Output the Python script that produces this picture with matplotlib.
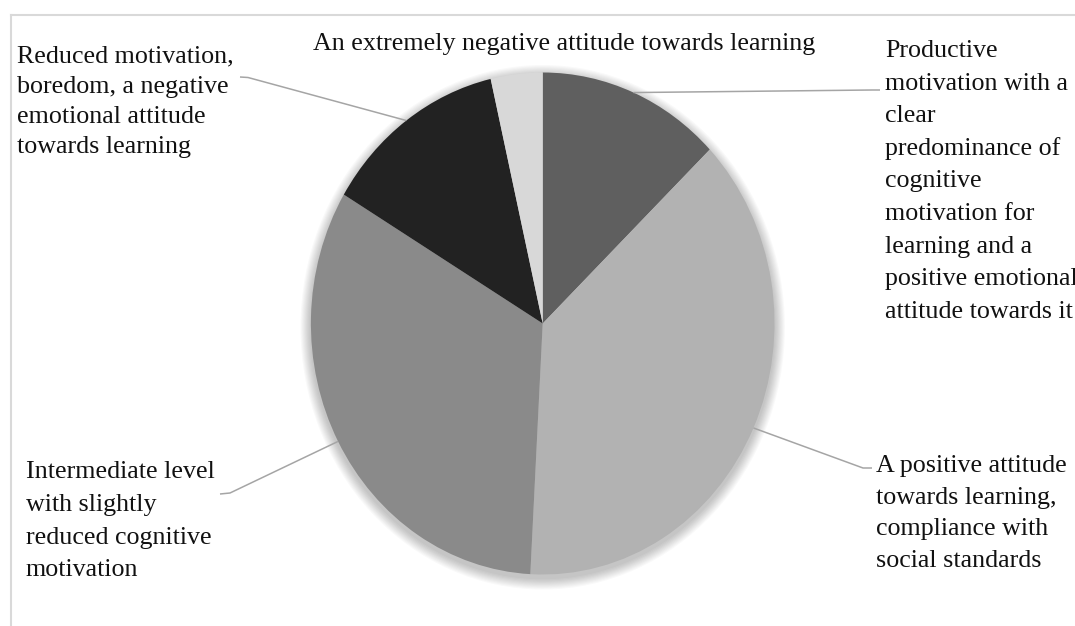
import matplotlib
matplotlib.use('Agg')
import matplotlib.pyplot as plt
import numpy as np
from matplotlib.patches import Ellipse
from matplotlib.lines import Line2D

# ---------------- data ----------------
categories = [
    "Productive motivation with a clear predominance of cognitive motivation for learning and a positive emotional attitude towards it",
    "A positive attitude towards learning, compliance with social standards",
    "Intermediate level with slightly reduced cognitive motivation",
    "Reduced motivation, boredom, a negative emotional attitude towards learning",
    "An extremely negative attitude towards learning",
]
values = [12.8, 38.0, 32.7, 12.8, 3.6]
colors = ['#5f5f5f', '#b2b2b2', '#8a8a8a', '#222222', '#d8d8d8']

label_lines = [
    ["Productive", "motivation with a", "clear", "predominance of", "cognitive",
     "motivation for", "learning and a", "positive emotional", "attitude towards it"],
    ["A positive attitude", "towards learning,", "compliance with", "social standards"],
    ["Intermediate level", "with slightly", "reduced cognitive", "motivation"],
    ["Reduced motivation,", "boredom, a negative", "emotional attitude", "towards learning"],
    ["An extremely negative attitude towards learning"],
]

# ---------------- layout (pixels, from top-left) ----------------
W, H = 1075, 626
cx, cy, rx, ry = 542.7, 323.5, 231.8, 251.0

# x, first baseline, alignment, line spacing
label_pos = [
    (885, 57, 'left', 32.6),
    (876, 472, 'left', 31.7),
    (26, 478, 'left', 32.8),
    (17, 62, 'left', 30.5),
    (564, 50, 'center', 0),
]
# leader kink / end points (pixels), None = no leader line
leader_pts = [
    [(872, 90), (880, 90)],
    [(863, 468), (872, 468)],
    [(230, 493), (220, 494)],
    [(248, 77.5), (240, 77)],
    None,
]

FONT = 'Liberation Serif'
FS = 18.7

def p2d(px, py):
    return (px - cx) / rx, (cy - py) / ry

fig = plt.figure(figsize=(W / 100, H / 100), dpi=100)
fig.patch.set_facecolor('white')
ax = fig.add_axes([0, 0, 1, 1])

# soft shadow
for k in range(10):
    s = 1 + 0.0045 * (k + 1)
    e = Ellipse((0.0, -0.015), 2 * s, 2 * s,
                facecolor='#000000', edgecolor='none', alpha=0.022, zorder=1)
    ax.add_patch(e)

wedges, _ = ax.pie(values, colors=colors, startangle=90, counterclock=False,
                   radius=1.0, center=(0, 0), frame=True,
                   wedgeprops=dict(linewidth=0, edgecolor='none'))
for w in wedges:
    w.set_zorder(3)
ax.set_xlim(-cx / rx, (W - cx) / rx)
ax.set_ylim(-(H - cy) / ry, cy / ry)
ax.set_aspect('auto')
ax.axis('off')

# labels & leader lines
for i, w in enumerate(wedges):
    x0, y0, ha, sp = label_pos[i]
    for j, line in enumerate(label_lines[i]):
        dx, dy = p2d(x0, y0 + j * sp)
        ax.text(dx, dy, line, ha=ha, va='baseline', fontsize=FS,
                family=FONT, color='#111111', zorder=5)
    if leader_pts[i] is not None:
        mid = np.deg2rad((w.theta1 + w.theta2) / 2)
        xs = [np.cos(mid)]
        ys = [np.sin(mid)]
        for (px, py) in leader_pts[i]:
            dx, dy = p2d(px, py)
            xs.append(dx)
            ys.append(dy)
        ax.plot(xs, ys, color='#a5a5a5', lw=1.1, zorder=4, solid_capstyle='butt')

# chart frame (top and left edges visible)
fig.add_artist(Line2D([11 / W, 1.0], [1 - 15 / H, 1 - 15 / H], transform=fig.transFigure,
                      color='#d9d9d9', lw=1.5))
fig.add_artist(Line2D([11 / W, 11 / W], [0, 1 - 15 / H], transform=fig.transFigure,
                      color='#d9d9d9', lw=1.5))

fig.savefig('out.png', dpi=100, facecolor='white')
